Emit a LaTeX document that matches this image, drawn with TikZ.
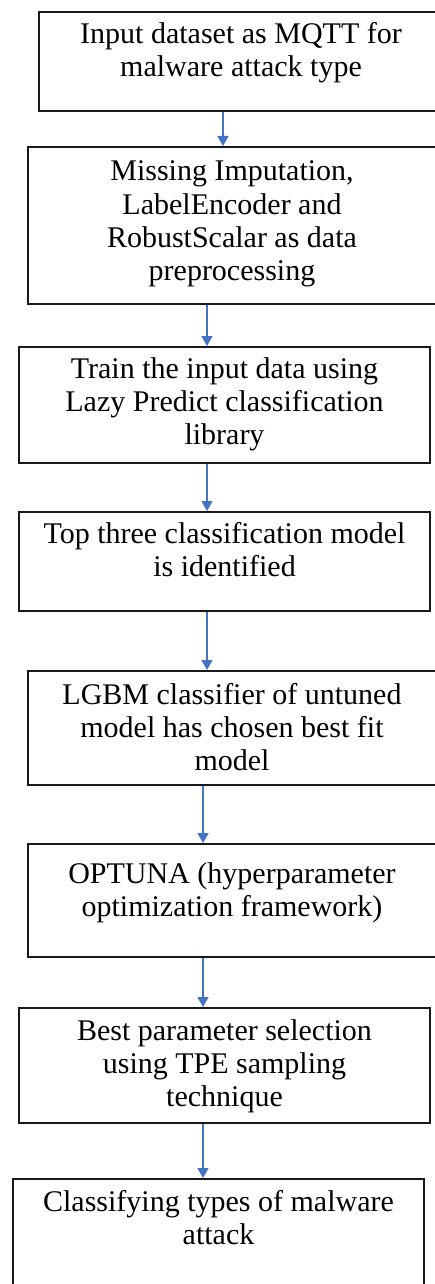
\documentclass[tikz,border=0pt]{standalone}
\usepackage{fontspec}
\setmainfont{Liberation Serif}
\usetikzlibrary{arrows.meta}
\definecolor{flowblue}{HTML}{4472C4}
% width, height, first baseline, text
\newcommand{\boxtext}[4]{\parbox[c][#2pt][t]{#1pt}{\centering\rule{0pt}{#3pt}#4}}

\begin{document}
\begin{tikzpicture}[x=1pt, y=-1pt, >={Triangle[width=11pt, length=10pt]},
  every node/.style={font=\fontsize{30}{33}\selectfont},
  box/.style={draw=black!90, line width=2pt, inner sep=0pt, anchor=north west},
  flow/.style={->, draw=flowblue, line width=1.6pt}]
  \useasboundingbox (0,0) rectangle (435,1284);
  \clip (0,0) rectangle (435,1284);
  \node[box] (input) at (38,11) {\boxtext{404}{99}{32}{Input dataset as MQTT for\\malware attack type}};
  \node[box] (prep) at (27,146) {\boxtext{408}{157}{34}{Missing Imputation,\\LabelEncoder and\\RobustScalar as data\\preprocessing}};
  \node[box] (train) at (18,346) {\boxtext{411}{116}{31}{Train the input data using\\Lazy Predict classification\\library}};
  \node[box] (top) at (18,511) {\boxtext{411}{99}{31}{Top three classification model\\is identified}};
  \node[box] (lgbm) at (27,670) {\boxtext{408}{114}{33}{LGBM classifier of untuned\\model has chosen best fit\\model}};
  \node[box] (optuna) at (27,843) {\boxtext{408}{113}{39}{OPTUNA (hyperparameter\\optimization framework)}};
  \node[box] (best) at (18,1007) {\boxtext{411}{115}{32}{Best parameter selection\\using TPE sampling\\technique}};
  \node[box] (cls) at (12,1178) {\boxtext{411}{130}{32}{Classifying types of malware\\attack}};
  \foreach \a/\b/\x in {input/prep/223, prep/train/207, train/top/207, top/lgbm/207,
      lgbm/optuna/203, optuna/best/203, best/cls/203}
    \draw[flow] (\x,0 |- \a.south) -- (\x,0 |- \b.north);
\end{tikzpicture}
\end{document}
